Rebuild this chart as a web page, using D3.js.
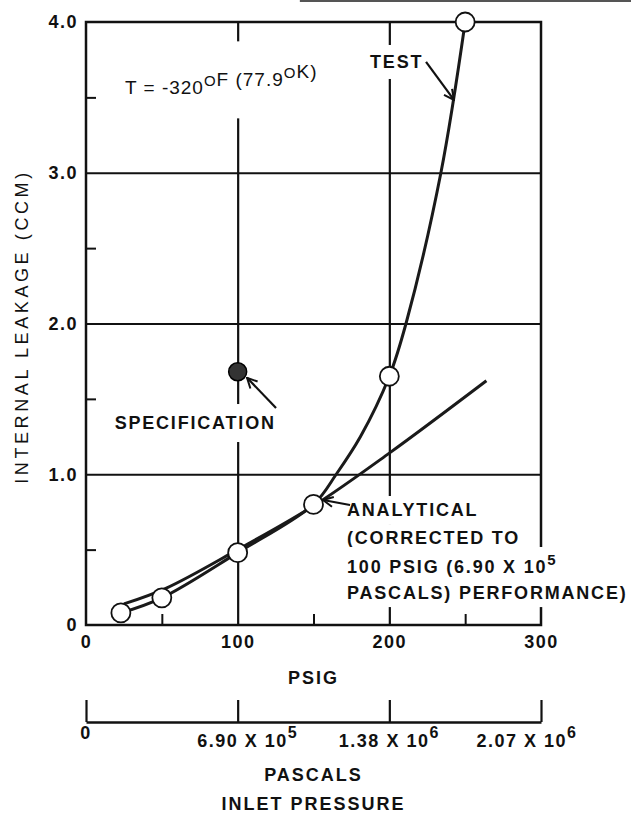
<!DOCTYPE html>
<html>
<head>
<meta charset="utf-8">
<script src="https://cdn.jsdelivr.net/npm/d3@7"></script>
<style>
  body { margin: 0; background: #fff; }
  svg text { font-family: "Liberation Sans", Arial, sans-serif; fill: #111; }
</style>
</head>
<body>
<svg id="chart" width="631" height="813"></svg>
<script>
// test points (circles)
var testPsig = [23, 50, 100, 150, 200, 250];
var testLeak = [0.08, 0.18, 0.48, 0.80, 1.65, 4.0];

// faired test curve
var testCurvePsig = [23, 50, 100, 150, 165, 181, 200, 211, 234, 250];
var testCurveLeak = [0.08, 0.18, 0.48, 0.80, 1.0, 1.25, 1.65, 2.0, 3.0, 4.0];

// analytical line
var anaPsig = [25, 53, 100, 150, 200, 264];
var anaLeak = [0.14, 0.245, 0.50, 0.79, 1.14, 1.62];

// specification point
var specPsig = [100];
var specLeak = [1.68];

var yTicks = [0, 1, 2, 3, 4];
var yTickLabels = ["0", "1.0", "2.0", "3.0", "4.0"];
var yMinor = [0.5, 1.5, 2.5, 3.5];
var xTicks = [0, 100, 200, 300];
var xMinor = [50, 150, 250];
var paTicks = [0, 6.90e5, 1.38e6, 2.07e6];
var paTickLabels = [["0", ""], ["6.90 X 10", "5"], ["1.38 X 10", "6"], ["2.07 X 10", "6"]];

var svg = d3.select("#chart");
var margin = {top: 22, left: 86, right: 90, bottom: 188};
var width = 631 - margin.left - margin.right,
    height = 813 - margin.top - margin.bottom;

var x = d3.scaleLinear().domain([0, 300]).range([0, width]);
var y = d3.scaleLinear().domain([0, 4]).range([height, 0]);
var pa = d3.scaleLinear().domain([0, 2.07e6]).range([0, width]);

var g = svg.append("g")
    .attr("transform", "translate(" + margin.left + "," + margin.top + ")");

// stray scan line along the top edge
g.append("line")
    .attr("x1", x(141)).attr("x2", 631 - margin.left)
    .attr("y1", -21).attr("y2", -21)
    .attr("stroke", "#555").attr("stroke-width", 2);

// grid
g.append("g").attr("class", "grid")
    .call(d3.axisLeft(y).tickValues([1, 2, 3]).tickSize(-width).tickFormat(""))
    .call(function(s) { s.select(".domain").remove(); });
g.append("g").attr("class", "grid")
    .attr("transform", "translate(0," + height + ")")
    .call(d3.axisBottom(x).tickValues([100, 200]).tickSize(height).tickFormat(""))
    .call(function(s) { s.select(".domain").remove(); s.selectAll("line").attr("y2", -height); });
g.selectAll(".grid line").attr("stroke", "#111").attr("stroke-width", 2.2);

// minor ticks
g.append("g").attr("class", "minor")
    .call(d3.axisLeft(y).tickValues(yMinor).tickSize(-10).tickFormat(""))
    .call(function(s) { s.select(".domain").remove(); });
g.append("g").attr("class", "minor")
    .attr("transform", "translate(0," + height + ")")
    .call(d3.axisBottom(x).tickValues(xMinor).tickSize(-11).tickFormat(""))
    .call(function(s) { s.select(".domain").remove(); });
g.selectAll(".minor line").attr("stroke", "#111").attr("stroke-width", 2);

// frame
g.append("rect")
    .attr("x", 0).attr("y", 0).attr("width", width).attr("height", height)
    .attr("fill", "none").attr("stroke", "#111").attr("stroke-width", 2.5);

// y axis labels
var yAx = g.append("g")
    .call(d3.axisLeft(y).tickValues(yTicks).tickSize(0).tickPadding(8)
        .tickFormat(function(d, i) { return yTickLabels[i]; }));
yAx.select(".domain").remove();
yAx.selectAll("text")
    .style("font-size", "18px").style("font-weight", "bold")
    .style("letter-spacing", "1.5px").attr("fill", "#111");

// x axis labels
var xAx = g.append("g")
    .attr("transform", "translate(0," + height + ")")
    .call(d3.axisBottom(x).tickValues(xTicks).tickSize(0).tickPadding(10)
        .tickFormat(function(d) { return d; }));
xAx.select(".domain").remove();
xAx.selectAll("text")
    .style("font-size", "18px").style("font-weight", "bold")
    .style("letter-spacing", "1.5px").attr("fill", "#111");

g.append("text")
    .attr("x", x(150)).attr("y", height + 59)
    .attr("text-anchor", "middle")
    .style("font-size", "18px").style("font-weight", "bold").style("letter-spacing", "2px")
    .text("PSIG");

// pascals axis
var paY = height + 97;
var paAx = g.append("g")
    .attr("transform", "translate(0," + paY + ")")
    .call(d3.axisBottom(pa).tickValues(paTicks).tickSize(-22).tickSizeOuter(0).tickFormat(""));
paAx.select(".domain").attr("stroke", "#111").attr("stroke-width", 2.5);
paAx.selectAll("line").attr("stroke", "#111").attr("stroke-width", 2.2);

var paDx = [0, 10, 0, -14];
var paDy = [17, 25, 25, 25];
paTicks.forEach(function(v, i) {
  var t = g.append("text")
      .attr("x", pa(v) + paDx[i]).attr("y", paY + paDy[i])
      .attr("text-anchor", "middle")
      .style("font-size", "18px").style("font-weight", "bold").style("letter-spacing", "1.5px");
  t.append("tspan").text(paTickLabels[i][0]);
  if (paTickLabels[i][1]) {
    t.append("tspan").attr("dy", -9).style("font-size", "16px").text(paTickLabels[i][1]);
  }
});

g.append("text")
    .attr("x", x(150)).attr("y", paY + 59)
    .attr("text-anchor", "middle")
    .style("font-size", "18px").style("font-weight", "bold").style("letter-spacing", "2px")
    .text("PASCALS");
g.append("text")
    .attr("x", x(150)).attr("y", paY + 88)
    .attr("text-anchor", "middle")
    .style("font-size", "18px").style("font-weight", "bold").style("letter-spacing", "2px")
    .text("INLET PRESSURE");

// y axis title
g.append("text")
    .attr("transform", "translate(" + (-58) + "," + y(1.98) + ") rotate(-90)")
    .attr("text-anchor", "middle")
    .style("font-size", "18px").style("letter-spacing", "3.6px")
    .text("INTERNAL LEAKAGE (CCM)");

// annotation labels with white backing to break the grid
var labels = g.append("g");
function note(px, py, parts, opt) {
  opt = opt || {};
  var wrap = labels.append("g");
  var bg = wrap.append("rect").attr("fill", "#fff");
  var t = wrap.append("text")
      .attr("x", x(px)).attr("y", y(py))
      .attr("text-anchor", opt.anchor || "start")
      .style("font-size", (opt.size || 18) + "px")
      .style("font-weight", opt.weight || "bold")
      .style("letter-spacing", (opt.ls || 1.8) + "px");
  parts.forEach(function(p) {
    if (p.sup) {
      t.append("tspan").attr("dy", -8).style("font-size", "15px").text(p.text);
      t.append("tspan").attr("dy", 8).text("");
    } else {
      t.append("tspan").text(p.text);
    }
  });
  var b = t.node().getBBox();
  var padX = opt.padX == null ? 3 : opt.padX, padY = opt.padY == null ? 3 : opt.padY;
  bg.attr("x", b.x - padX).attr("y", b.y - padY)
    .attr("width", b.width + 2 * padX).attr("height", b.height + 2 * padY);
  return t;
}

// curves
var line = d3.line().curve(d3.curveCatmullRom.alpha(0.5));
var testPts = testCurvePsig.map(function(d, i) { return [x(d), y(testCurveLeak[i])]; });
var anaPts = anaPsig.map(function(d, i) { return [x(d), y(anaLeak[i])]; });

g.append("path")
    .attr("d", line(anaPts))
    .attr("fill", "none").attr("stroke", "#1a1a1a").attr("stroke-width", 3);
g.append("path")
    .attr("d", line(testPts))
    .attr("fill", "none").attr("stroke", "#1a1a1a").attr("stroke-width", 3);

// test points
g.selectAll(".pt")
    .data(testPsig)
    .enter().append("circle")
    .attr("class", "pt")
    .attr("cx", function(d) { return x(d); })
    .attr("cy", function(d, i) { return y(testLeak[i]); })
    .attr("r", 9.5)
    .attr("fill", "#fff").attr("stroke", "#111").attr("stroke-width", 1.8);

// text notes
note(25.7, 3.52, [{text: "T = -320"}, {text: "O", sup: true}, {text: "F (77.9"}, {text: "O", sup: true}, {text: "K)"}],
     {weight: "normal", size: 19, ls: 1, padX: 8, padY: 20});
note(187.3, 3.695, [{text: "TEST"}], {padX: 2, padY: 7});
note(72, 1.30, [{text: "SPECIFICATION"}], {anchor: "middle", padY: 9});
note(172.1, 0.723, [{text: "ANALYTICAL"}], {padX: 3, padY: 4});
note(172.1, 0.537, [{text: "(CORRECTED TO"}], {padX: 3, padY: 4});
note(172.1, 0.345, [{text: "100 PSIG (6.90 X 10"}, {text: "5", sup: true}], {padX: 3, padY: 4});
note(172.1, 0.172, [{text: "PASCALS) PERFORMANCE)"}], {padX: 3, padY: 4});

// specification point
g.selectAll(".spec")
    .data(specPsig)
    .enter().append("circle")
    .attr("class", "spec")
    .attr("cx", function(d) { return x(d); })
    .attr("cy", function(d, i) { return y(specLeak[i]); })
    .attr("r", 9)
    .attr("fill", "#333").attr("stroke", "#000").attr("stroke-width", 1.5);

// arrows
svg.append("defs").append("marker")
    .attr("id", "arr").attr("viewBox", "0 0 12 12")
    .attr("refX", 11).attr("refY", 6)
    .attr("markerWidth", 12).attr("markerHeight", 12)
    .attr("markerUnits", "userSpaceOnUse")
    .attr("orient", "auto")
  .append("path")
    .attr("d", "M1,1 L11,6 L1,11")
    .attr("fill", "none").attr("stroke", "#111").attr("stroke-width", 2);

function arrow(x1, y1, x2, y2) {
  g.append("line")
      .attr("x1", x(x1)).attr("y1", y(y1))
      .attr("x2", x(x2)).attr("y2", y(y2))
      .attr("stroke", "#111").attr("stroke-width", 2.2)
      .attr("marker-end", "url(#arr)");
}
arrow(224.2, 3.735, 242.6, 3.483);
arrow(125.3, 1.44, 106.2, 1.64);
arrow(174.1, 0.796, 156.3, 0.829);
</script>
</body>
</html>
